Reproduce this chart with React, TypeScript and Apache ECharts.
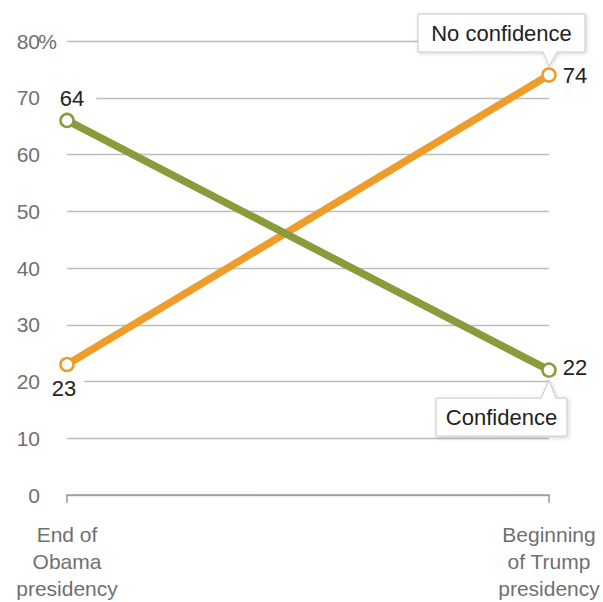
import React, { useEffect, useRef } from "react";
import * as echarts from "echarts";

const categories = ["End of\nObama\npresidency", "Beginning\nof Trump\npresidency"];
const yTicks = [0, 10, 20, 30, 40, 50, 60, 70, 80];
const noConfidenceValues = [23, 74];
const noConfidenceLabels = ["23", "74"];
// plotted position as drawn in the picture; label text as printed
const confidenceValues = [66, 22];
const confidenceLabels = ["64", "22"];

const ORANGE = "#EE9D2B";
const GREEN = "#8A9B3C";
const FONT = "'Liberation Sans', Arial, sans-serif";

export default function App() {
  const ref = useRef<HTMLDivElement>(null);
  useEffect(() => {
    if (!ref.current) return;
    const chart = echarts.init(ref.current, null, { renderer: "svg" });
    chart.setOption({
      animation: false,
      grid: { left: 67, right: 54, top: 41, bottom: 106 },
      xAxis: {
        type: "category",
        data: categories,
        boundaryGap: false,
        axisLine: { lineStyle: { color: "#999", width: 1.5 } },
        axisTick: { show: true, length: 8, lineStyle: { color: "#999", width: 1.5 } },
        axisLabel: {
          color: "#707070",
          fontSize: 21,
          fontFamily: FONT,
          lineHeight: 27,
          margin: 26,
          interval: 0,
        },
      },
      yAxis: {
        type: "value",
        min: yTicks[0],
        max: yTicks[yTicks.length - 1],
        interval: 10,
        axisLine: { show: false },
        axisTick: { show: false },
        splitLine: { lineStyle: { color: "#bdbdbd", width: 1.3 } },
        axisLabel: {
          margin: 10,
          color: "#707070",
          fontSize: 21,
          fontFamily: FONT,
          formatter: (v: number) =>
            v === yTicks[yTicks.length - 1] ? `{n|${v}}{p|%}` : `{n|${v}}{p| }`,
          rich: {
            n: { fontSize: 21, color: "#707070", fontFamily: FONT },
            p: { fontSize: 21, color: "#707070", fontFamily: FONT, width: 17 },
          },
        },
      },
      series: [
        {
          name: "No confidence",
          type: "line",
          lineStyle: { color: ORANGE, width: 7.5 },
          itemStyle: { color: "#fff", borderColor: ORANGE, borderWidth: 2.5 },
          symbol: "circle",
          symbolSize: 13,
          z: 2,
          label: {
            show: true,
            fontSize: 22,
            fontFamily: FONT,
            color: "#222",
            formatter: (p: any) => noConfidenceLabels[p.dataIndex],
          },
          data: noConfidenceValues.map((v, i) =>
            i === 0
              ? {
                  value: v,
                  label: {
                    position: "bottom",
                    distance: 5,
                    backgroundColor: "#fff",
                    padding: [0, 8, 0, 2],
                  },
                }
              : { value: v, label: { position: "right", distance: 6 } }
          ),
        },
        {
          name: "Confidence",
          type: "line",
          lineStyle: { color: GREEN, width: 7.5 },
          itemStyle: { color: "#fff", borderColor: GREEN, borderWidth: 2.5 },
          symbol: "circle",
          symbolSize: 13,
          z: 3,
          label: {
            show: true,
            fontSize: 22,
            fontFamily: FONT,
            color: "#222",
            formatter: (p: any) => confidenceLabels[p.dataIndex],
          },
          data: confidenceValues.map((v, i) =>
            i === 0
              ? {
                  value: v,
                  label: {
                    position: "top",
                    distance: 3,
                    offset: [10, 0],
                    backgroundColor: "#fff",
                    padding: [0, 12, 0, 2],
                  },
                }
              : { value: v, label: { position: "right", distance: 6, offset: [0, -3] } }
          ),
        },
      ],
    });

    const pNo = chart.convertToPixel({ seriesIndex: 0 }, [1, noConfidenceValues[1]]) as number[];
    const pC = chart.convertToPixel({ seriesIndex: 1 }, [1, confidenceValues[1]]) as number[];

    const boxStyle = {
      fill: "#fff",
      stroke: "#c8c8c8",
      lineWidth: 1,
      shadowBlur: 4,
      shadowColor: "rgba(0,0,0,0.18)",
      shadowOffsetX: 1,
      shadowOffsetY: 1,
    };

    const nx = pNo[0], ny = pNo[1];
    const nL = nx - 131, nR = nx + 36, nT = ny - 61, nB = ny - 23;
    const cx = pC[0], cy = pC[1];
    const cL = cx - 113, cR = cx + 18, cT = cy + 28, cB = cy + 66;

    chart.setOption({
      graphic: [
        {
          type: "polygon",
          z: 100,
          shape: {
            points: [
              [nL, nT], [nR, nT], [nR, nB], [nx + 8, nB], [nx, ny - 9], [nx - 6, nB], [nL, nB],
            ],
          },
          style: boxStyle,
        },
        {
          type: "text",
          z: 101,
          x: (nL + nR) / 2,
          y: (nT + nB) / 2,
          style: {
            text: "No confidence",
            fontSize: 22,
            fontFamily: FONT,
            fill: "#222",
            align: "center",
            verticalAlign: "middle",
          },
        },
        {
          type: "polygon",
          z: 100,
          shape: {
            points: [
              [cL, cT], [cx - 8, cT], [cx, cy + 10], [cx + 7, cT], [cR, cT], [cR, cB], [cL, cB],
            ],
          },
          style: boxStyle,
        },
        {
          type: "text",
          z: 101,
          x: (cL + cR) / 2,
          y: (cT + cB) / 2,
          style: {
            text: "Confidence",
            fontSize: 22,
            fontFamily: FONT,
            fill: "#222",
            align: "center",
            verticalAlign: "middle",
          },
        },
      ],
    });

    return () => chart.dispose();
  }, []);
  return <div ref={ref} style={{ width: 603, height: 602, position: "absolute", left: 0, top: 0 }} />;
}
